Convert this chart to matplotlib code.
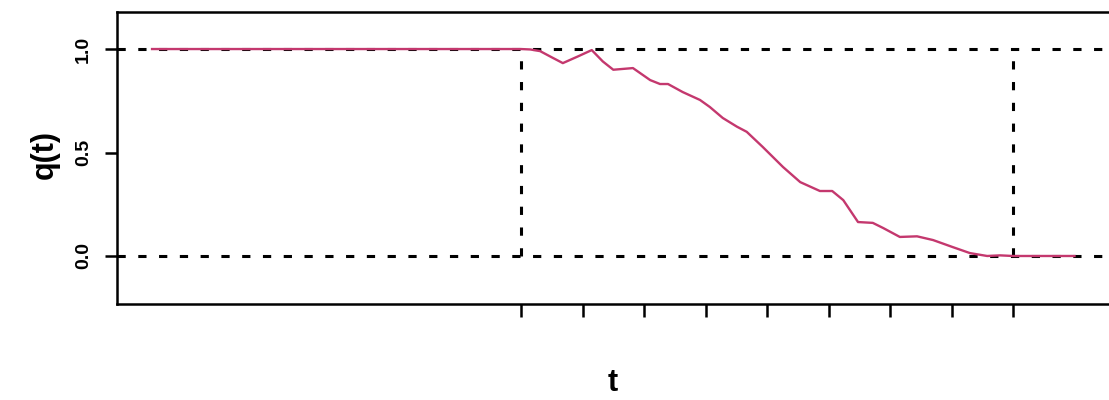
import matplotlib.pyplot as plt

# q(t) curve (t in tick units, tick 0 = start of drop)
t = [-6.0, 0.0, 0.15, 0.31, 0.50, 0.68, 0.93, 1.15, 1.33, 1.50, 1.82, 2.10,
     2.26, 2.39, 2.63, 2.91, 3.07, 3.28, 3.51, 3.67, 3.93, 4.26, 4.54, 4.86,
     5.06, 5.24, 5.48, 5.72, 5.89, 6.16, 6.44, 6.70, 7.02, 7.30, 7.58, 7.79,
     8.0, 9.0]
q = [1.0, 1.0, 0.998, 0.99, 0.96, 0.932, 0.965, 0.995, 0.94, 0.90, 0.908, 0.85,
     0.831, 0.831, 0.792, 0.754, 0.72, 0.667, 0.625, 0.60, 0.527, 0.43, 0.357, 0.314,
     0.314, 0.27, 0.164, 0.16, 0.135, 0.092, 0.095, 0.077, 0.043, 0.014, 0.0, 0.003,
     0.0, 0.0]

xticks = list(range(0, 9))
yticks = [0.0, 0.5, 1.0]
ytick_labels = ['0.0', '0.5', '1.0']
hlines = [0.0, 1.0]
vlines = [0.0, 8.0]

plt.rcParams['font.family'] = ['Liberation Sans', 'DejaVu Sans']

fig = plt.figure(figsize=(11.09, 4.0), dpi=100)
ax = fig.add_axes([117 / 1109, 96 / 400, 1003 / 1109, 292 / 400])

dash = (0, (2.7, 4.1))
for h in hlines:
    ax.axhline(h, color='black', lw=2.2, linestyle=dash, zorder=1)
for v in vlines:
    ax.plot([v, v], [0, 1], color='black', lw=2.2, linestyle=dash, zorder=1)

ax.plot(t, q, color='#c4386e', lw=1.7, zorder=2)

ax.set_xlim(-6.57, 9.74)
ax.set_ylim(-0.232, 1.179)

ax.set_xticks(xticks)
ax.set_xticklabels([])
ax.set_yticks(yticks)
ax.set_yticklabels(ytick_labels, rotation=90, va='center', fontsize=14, fontweight='bold')
ax.tick_params(direction='out', length=9, width=1.8, pad=9)

for s in ax.spines.values():
    s.set_linewidth(1.8)
ax.spines['right'].set_visible(False)

fig.text(45 / 1109, 1 - 155 / 400, 'q(t)', rotation=90, ha='center', va='center',
         fontsize=22, fontweight='bold')
fig.text(613 / 1109, 1 - 383 / 400, 't', ha='center', va='center',
         fontsize=22, fontweight='bold')

fig.savefig('out.png', dpi=100)
